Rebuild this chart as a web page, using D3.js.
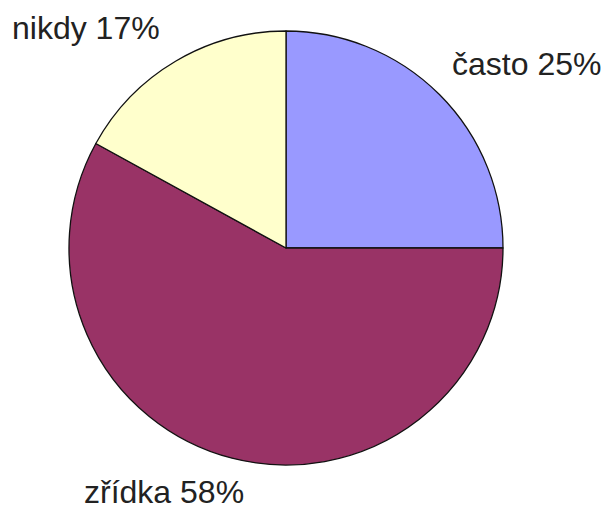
<!DOCTYPE html>
<html>
<head>
<meta charset="utf-8">
<script src="https://cdn.jsdelivr.net/npm/d3@7"></script>
<style>
  body { margin: 0; background: #fff; }
  svg text { font-family: Arial, "Liberation Sans", sans-serif; }
</style>
</head>
<body>
<div id="chart"></div>
<script>
// Data
const categories = ["často", "zřídka", "nikdy"];
const values = [25, 58, 17];
const colors = ["#9999ff", "#993366", "#ffffcc"];

const width = 609, height = 510;
const cx = 286, cy = 248, radius = 217;

// label placement (text anchor point, start-anchored, baseline)
const labelPos = {
  "často": [452, 75],
  "zřídka": [84, 503],
  "nikdy": [12, 39]
};

const svg = d3.select("#chart")
  .append("svg")
  .attr("width", width)
  .attr("height", height);

const pie = d3.pie()
  .value(d => d.value)
  .sort(null);

const arc = d3.arc()
  .innerRadius(0)
  .outerRadius(radius);

const data = categories.map((c, i) => ({ name: c, value: values[i], color: colors[i] }));

const g = svg.append("g").attr("transform", `translate(${cx},${cy})`);

g.selectAll("path")
  .data(pie(data))
  .join("path")
  .attr("d", arc)
  .attr("fill", d => d.data.color)
  .attr("stroke", "#111")
  .attr("stroke-width", 1.3)
  .attr("stroke-linejoin", "round");

svg.selectAll("text.lbl")
  .data(data)
  .join("text")
  .attr("class", "lbl")
  .attr("x", d => labelPos[d.name][0])
  .attr("y", d => labelPos[d.name][1])
  .attr("font-size", 32)
  .attr("fill", "#222")
  .text(d => `${d.name} ${d.value}%`);
</script>
</body>
</html>
